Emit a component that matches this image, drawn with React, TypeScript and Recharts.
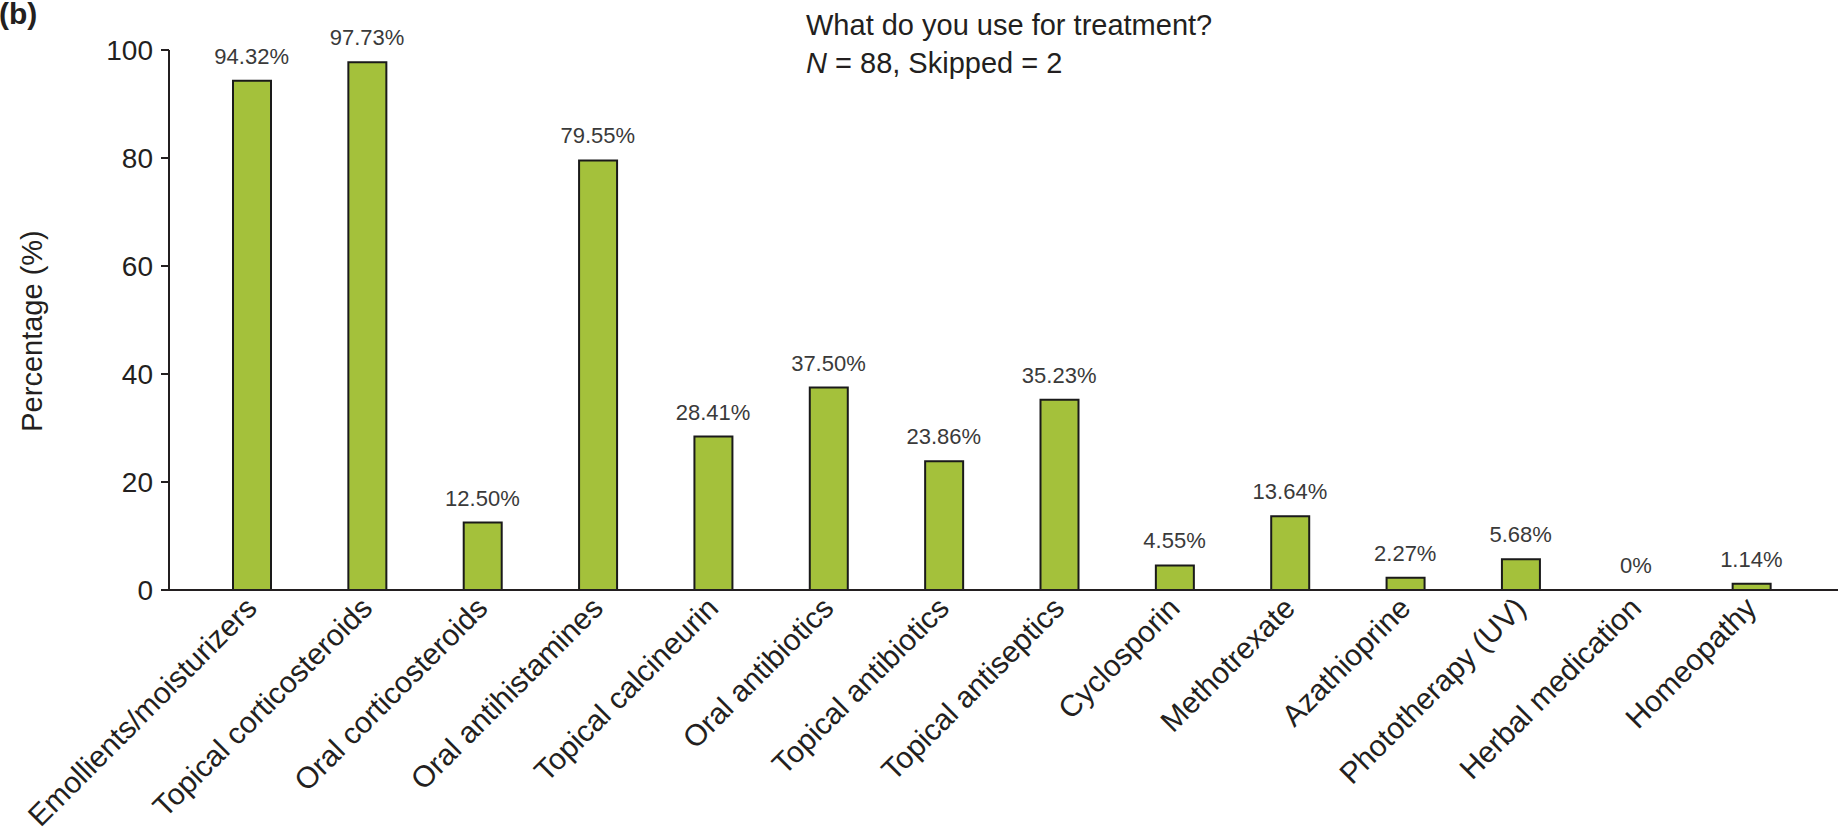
import { ComposedChart, Bar, Line, XAxis, YAxis, LabelList, Label } from 'recharts';

const categories = [
  'Emollients/moisturizers',
  'Topical corticosteroids',
  'Oral corticosteroids',
  'Oral antihistamines',
  'Topical calcineurin',
  'Oral antibiotics',
  'Topical antibiotics',
  'Topical antiseptics',
  'Cyclosporin',
  'Methotrexate',
  'Azathioprine',
  'Phototherapy (UV)',
  'Herbal medication',
  'Homeopathy',
];

const percentages = [94.32, 97.73, 12.5, 79.55, 28.41, 37.5, 23.86, 35.23, 4.55, 13.64, 2.27, 5.68, 0, 1.14];

const valueLabels = [
  '94.32%', '97.73%', '12.50%', '79.55%', '28.41%', '37.50%', '23.86%',
  '35.23%', '4.55%', '13.64%', '2.27%', '5.68%', '0%', '1.14%',
];

const yTicks = [0, 20, 40, 60, 80, 100];

const FONT = '"Liberation Sans", Arial, Helvetica, sans-serif';
const INK = '#231f20';

const data = categories.map((name, i) => ({ name, value: percentages[i], label: valueLabels[i] }));

function CategoryTick({ x, y, payload }: { x?: number; y?: number; payload?: { value: string } }) {
  const ax = (x ?? 0) + 7;
  const ay = (y ?? 0) + 12;
  return (
    <text
      x={ax}
      y={ay}
      transform={`rotate(-45, ${ax}, ${ay})`}
      textAnchor="end"
      fontSize={30}
      fontFamily={FONT}
      fill={INK}
    >
      {payload?.value}
    </text>
  );
}

function YTitle() {
  return (
    <text
      x={32}
      y={331}
      transform="rotate(-90, 32, 331)"
      textAnchor="middle"
      dominantBaseline="central"
      fontSize={29}
      fontFamily={FONT}
      fill={INK}
    >
      Percentage (%)
    </text>
  );
}

export default function App() {
  return (
    <div style={{ position: 'absolute', left: 0, top: 0, width: 1839, height: 836, background: '#fff', fontFamily: FONT }}>
      <div
        style={{ position: 'absolute', left: -1, top: -5, fontSize: 30, fontWeight: 700, lineHeight: '38px', color: INK }}
      >
        (b)
      </div>
      <div style={{ position: 'absolute', left: 806, top: 6, fontSize: 29, lineHeight: '38px', color: INK }}>
        <div>What do you use for treatment?</div>
        <div>
          <i>N</i> = 88, Skipped = 2
        </div>
      </div>
      <ComposedChart width={1839} height={836} data={data} margin={{ top: 50, right: 1, bottom: 0, left: 0 }}>
        <XAxis
          dataKey="name"
          interval={0}
          height={246}
          tickLine={false}
          axisLine={{ stroke: INK, strokeWidth: 2 }}
          padding={{ left: 25, right: 29 }}
          tick={<CategoryTick />}
        />
        <YAxis
          domain={[0, 100]}
          ticks={yTicks}
          width={169}
          tickSize={8}
          tickMargin={8}
          axisLine={{ stroke: INK, strokeWidth: 2 }}
          tickLine={{ stroke: INK, strokeWidth: 2 }}
          tick={{ fill: INK, fontSize: 28, fontFamily: FONT }}
        >
          <Label content={<YTitle />} />
        </YAxis>
        <Bar dataKey="value" fill="#a4c13b" stroke="#1a1a1a" strokeWidth={2} barSize={38} isAnimationActive={false} />
        {/* invisible line only carries the value labels, so the 0% bar still gets one */}
        <Line dataKey="value" stroke="none" dot={false} activeDot={false} isAnimationActive={false}>
          <LabelList dataKey="label" position="top" offset={17} fill="#3a3a3a" fontSize={22} fontFamily={FONT} />
        </Line>
      </ComposedChart>
    </div>
  );
}
